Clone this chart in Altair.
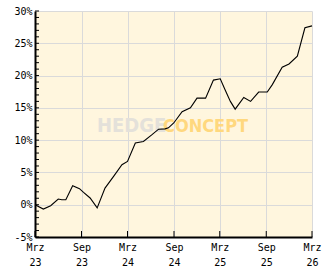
import altair as alt
import pandas as pd

# ---- data ----
dates = ["2023-03-01", "2023-04-03", "2023-05-02", "2023-06-01", "2023-06-15", "2023-07-01",
         "2023-07-28", "2023-08-24", "2023-09-09", "2023-10-05", "2023-11-02", "2023-12-03",
         "2024-01-06", "2024-02-08", "2024-03-01", "2024-04-01", "2024-05-03", "2024-06-06",
         "2024-07-02", "2024-07-28", "2024-08-10", "2024-08-31", "2024-10-03", "2024-11-05",
         "2024-12-01", "2025-01-04", "2025-02-04", "2025-03-03", "2025-03-22", "2025-04-12",
         "2025-05-01", "2025-06-04", "2025-07-01", "2025-08-02", "2025-09-05", "2025-09-25",
         "2025-11-03", "2025-11-30", "2026-01-02", "2026-02-01", "2026-03-01"]
values = [0.0, -0.67, -0.15, 0.88, 0.78, 0.78,
          2.94, 2.48, 1.9, 1.04, -0.5, 2.58,
          4.39, 6.2, 6.7, 9.55, 9.8, 10.85,
          11.7, 11.75, 11.9, 12.66, 14.4, 15.0,
          16.5, 16.5, 19.3, 19.5, 17.8, 16.0,
          14.8, 16.6, 16.0, 17.45, 17.45, 18.6,
          21.3, 21.8, 23.0, 27.4, 27.7]

y_major = [-5, 0, 5, 10, 15, 20, 25, 30]
y_minor = [-5, -4, -3, -2, -1, 0, 1, 2, 3, 4, 5, 6, 7, 8, 9, 10, 11, 12, 13, 14, 15,
           16, 17, 18, 19, 20, 21, 22, 23, 24, 25, 26, 27, 28, 29, 30]
x_tick_keys = ["2023-03", "2023-09", "2024-03", "2024-09", "2025-03", "2025-09", "2026-03"]
x_tick_month = ["Mrz", "Sep", "Mrz", "Sep", "Mrz", "Sep", "Mrz"]
x_tick_year = ["23", "23", "24", "24", "25", "25", "26"]

W, H = 277, 226
FONT = "DejaVu Sans Mono, monospace"
WM_FONT = "Liberation Sans Narrow, DejaVu Sans Condensed, Roboto Condensed, Liberation Sans, sans-serif"

df = pd.DataFrame({"date": pd.to_datetime(dates), "v": values})
ticks_df = pd.DataFrame({"date": pd.to_datetime([k + "-01" for k in x_tick_keys])})
minor_df = pd.DataFrame({"v": y_minor})

x_dt = [alt.DateTime(year=int(k[:4]), month=int(k[5:]), date=1) for k in x_tick_keys]

keys_js = "[" + ",".join("'%s'" % k for k in x_tick_keys) + "]"
mon_js = "[" + ",".join("'%s'" % k for k in x_tick_month) + "]"
yr_js = "[" + ",".join("'%s'" % k for k in x_tick_year) + "]"
idx = "indexof(%s, timeFormat(datum.value, '%%Y-%%m'))" % keys_js
label_expr = "[%s[%s], %s[%s]]" % (mon_js, idx, yr_js, idx)

x_scale = alt.Scale(domain=[x_dt[0], x_dt[-1]])
y_scale = alt.Scale(domain=[-5, 30], nice=False, zero=False)

x_axis = alt.Axis(values=x_dt, labelExpr=label_expr, grid=True, gridColor="#DADADA",
                  gridWidth=1, domainColor="#000000", domainWidth=2, ticks=False,
                  labelFont=FONT, labelFontSize=10, labelColor="#000000",
                  labelPadding=5, labelLineHeight=15, labelAngle=0,
                  labelAlign="center", labelFlush=False, labelOverlap=False, title=None)
y_axis = alt.Axis(values=y_major, labelExpr="datum.value + '%'", grid=True,
                  gridColor="#DADADA", gridWidth=1, domainColor="#000000",
                  domainWidth=2, ticks=False, labelFont=FONT, labelFontSize=10,
                  labelColor="#000000", labelPadding=3, labelFlush=False,
                  labelOverlap=False, labelBaseline="middle", title=None)

line = alt.Chart(df).mark_line(color="#000000", strokeWidth=1.1).encode(
    x=alt.X("date:T", scale=x_scale, axis=x_axis, title=None),
    y=alt.Y("v:Q", scale=y_scale, axis=y_axis, title=None),
)

minor = alt.Chart(minor_df).mark_rule(color="#000000", strokeWidth=1).encode(
    y=alt.Y("v:Q", scale=y_scale, axis=y_axis, title=None), x=alt.value(0), x2=alt.value(4)
)

bottom_ticks = alt.Chart(ticks_df).mark_rule(color="#000000", strokeWidth=1).encode(
    x=alt.X("date:T", scale=x_scale, axis=x_axis, title=None), y=alt.value(H - 6), y2=alt.value(H)
)

wm1 = alt.Chart(pd.DataFrame({"t": ["HEDGE"]})).mark_text(
    font=WM_FONT, fontWeight="bold", fontSize=20, color="#E4E1DA",
    align="left", baseline="alphabetic"
).encode(text="t:N", x=alt.value(62), y=alt.value(121))

wm2 = alt.Chart(pd.DataFrame({"t": ["CONCEPT"]})).mark_text(
    font=WM_FONT, fontWeight="bold", fontSize=18, color="#FFD87E",
    align="left", baseline="alphabetic"
).encode(text="t:N", x=alt.value(128), y=alt.value(121))

chart = alt.layer(wm1, wm2, line, minor, bottom_ticks).properties(
    width=W, height=H, background="#FFFFFF",
    padding={"left": 35, "top": 11, "right": 20, "bottom": 32},
    autosize=alt.AutoSizeParams(type="none"),
).configure_view(fill="#FFF6DE", stroke=None)

chart.save("out.html", embed_options={"renderer": "svg", "actions": False})
